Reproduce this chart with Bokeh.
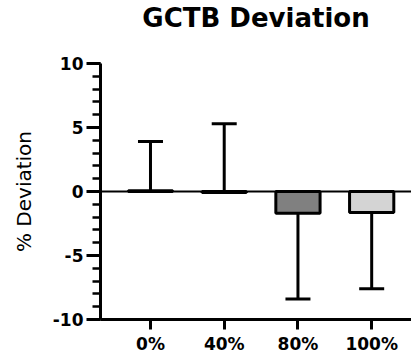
from bokeh.plotting import figure
from bokeh.models import (Range1d, FixedTicker, Span, Whisker, ColumnDataSource, TeeHead,
                          SingleIntervalTicker, Title)
from bokeh.embed import file_html
from bokeh.resources import INLINE

title_text = "GCTB Deviation"
categories = ["0%", "40%", "80%", "100%"]
deviation = [0.05, -0.08, -1.7, -1.65]
sd = [3.85, 5.38, 6.7, 5.95]
err_dir = [1, 1, -1, -1]
colors = ["#ffffff", "#ffffff", "#808080", "#d4d4d4"]
y_ticks = [-10, -5, 0, 5, 10]
y_tick_labels = ["-10", "-5", "0", "5", "10"]

xs = list(range(len(categories)))
err_end = [v + d * s for v, s, d in zip(deviation, sd, err_dir)]

FONT = "DejaVu Sans"

p = figure(width=411, height=356, output_backend="svg", toolbar_location=None, title=None,
           x_range=Range1d(-0.678, 3.54), y_range=Range1d(-10, 10),
           min_border_left=100, min_border_right=0, min_border_top=63, min_border_bottom=37)
p.outline_line_color = None
p.xgrid.visible = False
p.ygrid.visible = False
p.background_fill_color = "white"
p.border_fill_color = "white"

# spacer panel between frame and title, then the title itself
p.add_layout(Title(text=" ", text_font_size="1px", standoff=28), "above")
p.add_layout(Title(text=title_text, text_font=FONT, text_font_size="26px", text_font_style="bold",
                   text_color="black", align="center", standoff=0), "above")

src = ColumnDataSource(dict(x=xs, top=deviation, color=colors))

up_src = ColumnDataSource(dict(x=[x for x, d in zip(xs, err_dir) if d > 0],
                               lo=[v for v, d in zip(deviation, err_dir) if d > 0],
                               hi=[e for e, d in zip(err_end, err_dir) if d > 0]))
dn_src = ColumnDataSource(dict(x=[x for x, d in zip(xs, err_dir) if d < 0],
                               lo=[e for e, d in zip(err_end, err_dir) if d < 0],
                               hi=[v for v, d in zip(deviation, err_dir) if d < 0]))
w_up = Whisker(source=up_src, base="x", lower="lo", upper="hi", line_width=3, line_color="black",
               upper_head=TeeHead(size=25, line_width=3, line_color="black"), lower_head=None)
w_dn = Whisker(source=dn_src, base="x", lower="lo", upper="hi", line_width=3, line_color="black",
               lower_head=TeeHead(size=25, line_width=3, line_color="black"), upper_head=None)
p.add_layout(w_up)
p.add_layout(w_dn)

p.vbar(x="x", top="top", bottom=0, width=0.6, fill_color="color", line_color="black",
       line_width=3, source=src)

p.add_layout(Span(location=0, dimension="width", line_color="black", line_width=2))

p.xaxis.ticker = FixedTicker(ticks=xs)
p.xaxis.major_label_overrides = {i: c for i, c in enumerate(categories)}
p.xaxis.major_tick_out = 10
p.xaxis.major_tick_in = 0
p.xaxis.major_label_standoff = 4

p.yaxis.ticker = SingleIntervalTicker(interval=5, num_minor_ticks=5)
p.yaxis.major_label_overrides = {t: l for t, l in zip(y_ticks, y_tick_labels)}
p.yaxis.major_tick_out = 14
p.yaxis.major_tick_in = 0
p.yaxis.minor_tick_out = 8
p.yaxis.minor_tick_in = 0
p.yaxis.major_label_standoff = 3
p.yaxis.axis_label = "% Deviation"
p.yaxis.axis_label_standoff = 14

for ax in (p.xaxis[0], p.yaxis[0]):
    ax.axis_line_width = 3
    ax.major_tick_line_width = 3
    ax.minor_tick_line_width = 2.5
    ax.axis_line_color = "black"
    ax.major_tick_line_color = "black"
    ax.minor_tick_line_color = "black" if ax is p.yaxis[0] else None
    ax.major_label_text_font = FONT
    ax.major_label_text_font_style = "bold"
    ax.major_label_text_font_size = "17px"
    ax.major_label_text_color = "black"
    ax.axis_label_text_font = FONT
    ax.axis_label_text_font_style = "normal"
    ax.axis_label_text_font_size = "20px"
    ax.axis_label_text_color = "black"

open("out.html", "w").write(file_html(p, INLINE))
